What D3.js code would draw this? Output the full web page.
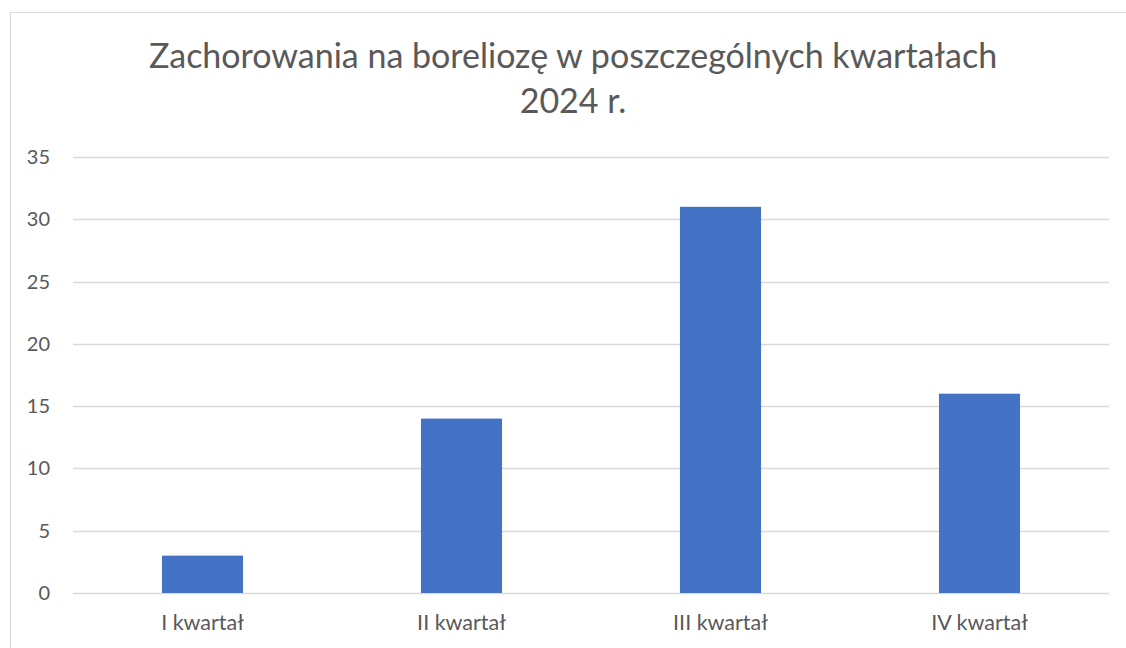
<!DOCTYPE html>
<html>
<head>
  <meta charset="utf-8">
  <script src="https://d3js.org/d3.v7.min.js"></script>
  <style>
    body { margin: 0; background: #fff; }
    text { font-family: Lato, "Open Sans", sans-serif; fill: #595959; }
  </style>
</head>
<body>
<svg id="chart"></svg>
<script>
  const categories = ["I kwartał", "II kwartał", "III kwartał", "IV kwartał"];
  const values = [3, 14, 31, 16];
  const yTicks = [0, 5, 10, 15, 20, 25, 30, 35];
  const titleLines = ["Zachorowania na boreliozę w poszczególnych kwartałach", "2024 r."];

  const W = 1126, H = 648;
  const svg = d3.select("#chart").attr("width", W).attr("height", H);

  // chart frame (runs off the right and bottom edges in the reference)
  svg.append("rect")
    .attr("x", 10.5).attr("y", 12.5)
    .attr("width", W + 20).attr("height", H + 20)
    .attr("fill", "#fff").attr("stroke", "#d9d9d9");

  const plot = { left: 73, right: 1109, top: 157, bottom: 593 };

  const x = d3.scaleBand().domain(categories)
    .range([plot.left, plot.right])
    .paddingInner(0.687).paddingOuter(0.3435);
  const y = d3.scaleLinear().domain([0, 35]).range([plot.bottom, plot.top]);

  // gridlines
  svg.append("g").selectAll("line")
    .data(yTicks)
    .join("line")
    .attr("x1", plot.left).attr("x2", plot.right)
    .attr("y1", d => Math.round(y(d)) + 0.5).attr("y2", d => Math.round(y(d)) + 0.5)
    .attr("stroke", "#d9d9d9").attr("stroke-width", 1.3);

  // y labels
  svg.append("g").selectAll("text")
    .data(yTicks)
    .join("text")
    .attr("x", 50).attr("y", d => y(d))
    .attr("dy", "0.35em")
    .attr("text-anchor", "end")
    .style("font-size", "20px")
    .text(d => d);

  // bars
  svg.append("g").selectAll("rect")
    .data(values)
    .join("rect")
    .attr("x", (d, i) => x(categories[i]))
    .attr("width", x.bandwidth())
    .attr("y", d => y(d))
    .attr("height", d => y(0) - y(d))
    .attr("fill", "#4472c4");

  // x labels
  svg.append("g").selectAll("text")
    .data(categories)
    .join("text")
    .attr("x", d => x(d) + x.bandwidth() / 2)
    .attr("y", 630)
    .attr("text-anchor", "middle")
    .style("font-size", "21.5px")
    .text(d => d);

  // title
  svg.append("g").selectAll("text")
    .data(titleLines)
    .join("text")
    .attr("x", 573)
    .attr("y", (d, i) => 68 + i * 45)
    .attr("text-anchor", "middle")
    .style("font-size", "34px")
    .text(d => d);
</script>
</body>
</html>
